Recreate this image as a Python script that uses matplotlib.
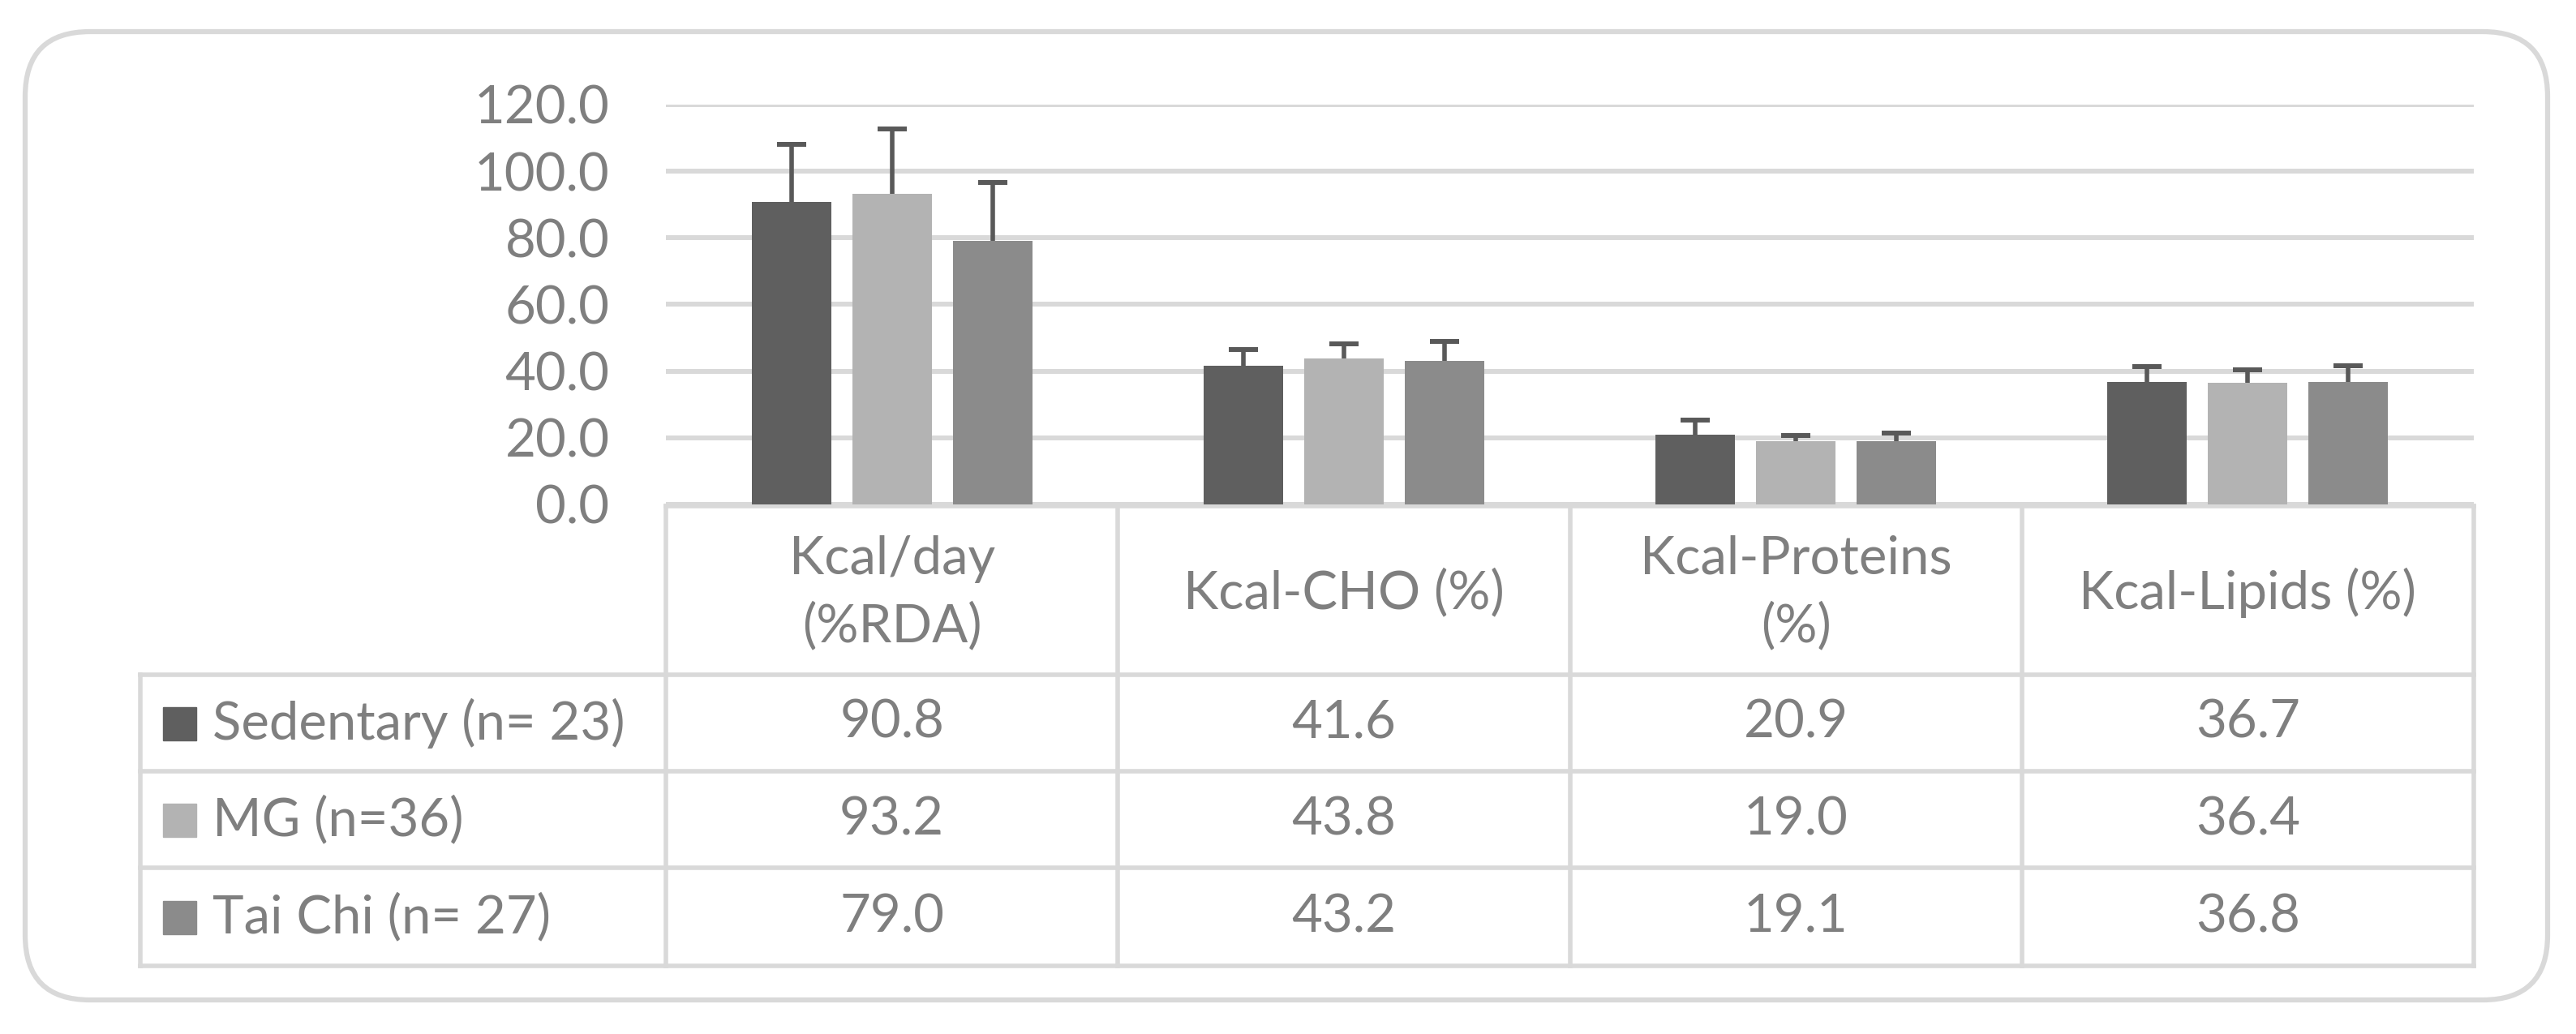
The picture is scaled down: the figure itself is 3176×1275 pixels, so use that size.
import numpy as np
import matplotlib
matplotlib.use('Agg')
import matplotlib.pyplot as plt
from matplotlib.patches import FancyBboxPatch, Rectangle

plt.rcParams['font.family'] = ['Lato', 'DejaVu Sans']

# data
categories = ['Kcal/day\n(%RDA)', 'Kcal-CHO (%)', 'Kcal-Proteins\n(%)', 'Kcal-Lipids (%)']
groups = ['Sedentary (n= 23)', 'MG (n=36)', 'Tai Chi (n= 27)']
sedentary = [90.8, 41.6, 20.9, 36.7]
mg = [93.2, 43.8, 19.0, 36.4]
taichi = [79.0, 43.2, 19.1, 36.8]
sedentary_sd = [17.3, 4.9, 4.4, 4.7]
mg_sd = [19.6, 4.3, 1.8, 3.9]
taichi_sd = [17.7, 5.7, 2.3, 4.8]
yticks = [0, 20, 40, 60, 80, 100, 120]

colors = ['#5f5f5f', '#b3b3b3', '#8b8b8b']
txt = '#7f7f7f'
grid = '#d9d9d9'
fs = 47

W, H = 3176, 1275
fig = plt.figure(figsize=(W / 100, H / 100), dpi=100)

# overlay in pixel coords for frame and table
ov = fig.add_axes([0, 0, 1, 1])
ov.set_xlim(0, W)
ov.set_ylim(H, 0)
ov.axis('off')

ov.add_patch(FancyBboxPatch((31, 39), 3141 - 31, 1233 - 39,
                            boxstyle='round,pad=0,rounding_size=80',
                            fc='white', ec=grid, lw=4.5))

# plot area
x0, x1, ybase, ytop = 821, 3050, 622, 129
ax = fig.add_axes([x0 / W, (H - ybase) / H, (x1 - x0) / W, (ybase - ytop) / H])
ax.set_facecolor('none')
ax.set_xlim(-0.5, len(categories) - 0.5)
ax.set_ylim(0, 120)
ax.set_yticks(yticks)
ax.set_yticklabels([f'{v:.1f}' for v in yticks], color=txt, fontsize=fs)
ax.tick_params(axis='y', length=0, pad=50)
ax.set_xticks([])
for s in ax.spines.values():
    s.set_visible(False)
ax.yaxis.grid(True, color=grid, lw=4.3)
ax.set_axisbelow(True)

x = np.arange(len(categories))
bw = 0.176
step = 0.2226
series = [(sedentary, sedentary_sd), (mg, mg_sd), (taichi, taichi_sd)]
for i, (vals, sd) in enumerate(series):
    xs = x + (i - 1) * step
    vals = np.array(vals)
    sd = np.array(sd)
    ax.bar(xs, vals, bw, color=colors[i], zorder=2)
    ax.vlines(xs, vals, vals + sd, color='#595959', lw=4, zorder=3, clip_on=False)
    ax.plot(xs, vals + sd, ls='none', marker='_', ms=26, mew=4.3,
            color='#595959', zorder=3, clip_on=False)

# table
col_edges = np.linspace(x0, x1, len(categories) + 1)
row_edges = [624, 832, 951, 1070, 1191]
tleft = 173
lw_t = 4.0
ov.plot([x0, x1], [row_edges[0], row_edges[0]], color=grid, lw=lw_t)
for y in row_edges[1:]:
    ov.plot([tleft, x1], [y, y], color=grid, lw=lw_t)
ov.plot([tleft, tleft], [row_edges[1], row_edges[-1]], color=grid, lw=lw_t)
for cx in col_edges:
    ov.plot([cx, cx], [row_edges[0], row_edges[-1]], color=grid, lw=lw_t)

centers = (col_edges[:-1] + col_edges[1:]) / 2
hy = (row_edges[0] + row_edges[1]) / 2
for cx, lab in zip(centers, categories):
    ov.text(cx, hy + 3, lab, ha='center', va='center', color=txt, fontsize=fs,
            linespacing=1.45)

for r, (name, (vals, sd)) in enumerate(zip(groups, series)):
    ry = (row_edges[r + 1] + row_edges[r + 2]) / 2
    ov.add_patch(Rectangle((201, ry - 20), 41, 41, color=colors[r]))
    ov.text(262, ry, name, ha='left', va='center', color=txt, fontsize=fs)
    for cx, v in zip(centers, vals):
        ov.text(cx, ry, f'{v:.1f}', ha='center', va='center', color=txt, fontsize=fs)

fig.savefig('out.png', dpi=100, facecolor='white')
